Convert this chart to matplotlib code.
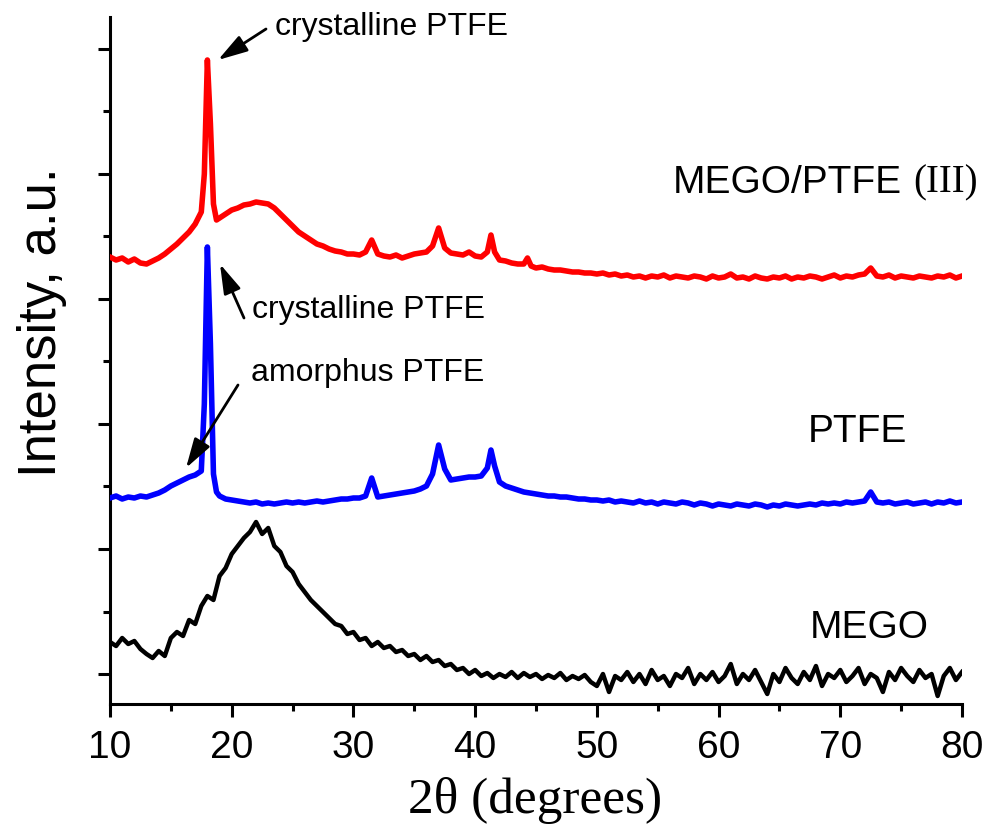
import numpy as np
import matplotlib
matplotlib.use("Agg")
import matplotlib.pyplot as plt

# XRD patterns, intensity in a.u. (curves already stacked with offsets)
x_grid = np.arange(10, 80.01, 0.5)

mego_y = [62, 58, 66, 60, 63, 55, 50, 46, 53, 48,
          66, 72, 68, 84, 80, 98, 108, 104, 128, 136,
          150, 158, 166, 172, 182, 170, 176, 158, 152, 138,
          132, 120, 112, 104, 98, 92, 86, 80, 78, 70,
          72, 64, 66, 58, 62, 56, 58, 52, 54, 48,
          50, 44, 48, 42, 44, 38, 40, 34, 36, 30,
          34, 28, 31, 26, 30, 27, 32, 26, 31, 27,
          30, 25, 29, 26, 31, 24, 28, 25, 29, 22,
          18, 30, 12, 28, 24, 32, 22, 30, 20, 34,
          24, 28, 18, 30, 26, 36, 20, 30, 24, 32,
          22, 28, 40, 20, 30, 24, 34, 22, 10, 30,
          22, 36, 26, 20, 32, 24, 38, 18, 30, 26,
          34, 22, 28, 36, 20, 30, 26, 12, 32, 24,
          36, 28, 22, 34, 26, 30, 8, 28, 36, 24, 32]

ptfe_x = [10, 10.5, 11, 11.5, 12, 12.5, 13, 13.5, 14, 14.5, 15, 15.5, 16, 16.5, 17, 17.5,
          17.75, 18.0, 18.25, 18.5, 18.75, 19, 19.5, 20, 20.5, 21, 21.5, 22, 22.5, 23, 23.5,
          24, 24.5, 25, 25.5, 26, 26.5, 27, 27.5, 28, 28.5, 29, 29.5, 30, 30.5, 31, 31.5,
          32, 32.5, 33, 33.5, 34, 34.5, 35, 35.5, 36, 36.5, 37, 37.5, 38, 38.5, 39, 39.5,
          40, 40.5, 41, 41.3, 41.6, 42, 42.5, 43, 43.5, 44, 44.5, 45, 45.5, 46, 46.5, 47,
          47.5, 48, 48.5, 49, 49.5, 50, 50.5, 51, 51.5, 52, 52.5, 53, 53.5, 54, 54.5, 55,
          55.5, 56, 56.5, 57, 57.5, 58, 58.5, 59, 59.5, 60, 60.5, 61, 61.5, 62, 62.5, 63,
          63.5, 64, 64.5, 65, 65.5, 66, 66.5, 67, 67.5, 68, 68.5, 69, 69.5, 70, 70.5, 71,
          71.5, 72, 72.5, 73, 73.5, 74, 74.5, 75, 75.5, 76, 76.5, 77, 77.5, 78, 78.5, 79,
          79.5, 80]
ptfe_y = [206, 208, 205, 207, 206, 208, 207, 209, 211, 214, 218, 221, 224, 227, 229, 233,
          300, 457, 360, 230, 212, 208, 205, 204, 203, 202, 201, 202, 200, 201, 200,
          201, 202, 201, 202, 201, 202, 203, 202, 203, 204, 205, 205, 206, 206, 208, 226,
          207, 208, 209, 210, 211, 212, 213, 215, 218, 230, 259, 235, 224, 225, 226, 227,
          227, 228, 236, 254, 238, 222, 218, 216, 214, 212, 211, 210, 209, 208, 208, 207,
          207, 206, 205, 205, 204, 204, 203, 204, 202, 203, 202, 201, 203, 201, 202, 200,
          202, 201, 200, 202, 201, 199, 201, 200, 198, 200, 199, 198, 200, 199, 198, 200,
          199, 197, 199, 198, 200, 199, 198, 199, 200, 199, 201, 200, 201, 200, 202, 201,
          202, 203, 212, 202, 201, 202, 200, 201, 202, 200, 201, 202, 200, 202, 201, 203,
          201, 202]

mix_x = [10, 10.5, 11, 11.5, 12, 12.5, 13, 13.5, 14, 14.5, 15, 15.5, 16, 16.5, 17, 17.5,
         17.75, 18.0, 18.25, 18.5, 18.75, 19, 19.5, 20, 20.5, 21, 21.5, 22, 22.5, 23, 23.5,
         24, 24.5, 25, 25.5, 26, 26.5, 27, 27.5, 28, 28.5, 29, 29.5, 30, 30.5, 31, 31.5,
         32, 32.5, 33, 33.5, 34, 34.5, 35, 35.5, 36, 36.5, 37, 37.5, 38, 38.5, 39, 39.5,
         40, 40.5, 41, 41.3, 41.6, 42, 42.5, 43, 43.5, 44, 44.3, 44.6, 45, 45.5, 46, 46.5,
         47, 47.5, 48, 48.5, 49, 49.5, 50, 50.5, 51, 51.5, 52, 52.5, 53, 53.5, 54, 54.5,
         55, 55.5, 56, 56.5, 57, 57.5, 58, 58.5, 59, 59.5, 60, 60.5, 61, 61.5, 62, 62.5,
         63, 63.5, 64, 64.5, 65, 65.5, 66, 66.5, 67, 67.5, 68, 68.5, 69, 69.5, 70, 70.5,
         71, 71.5, 72, 72.5, 73, 73.5, 74, 74.5, 75, 75.5, 76, 76.5, 77, 77.5, 78, 78.5,
         79, 79.5, 80]
mix_y = [447, 444, 446, 442, 445, 441, 440, 443, 446, 450, 455, 460, 466, 472, 480, 492,
         530, 644, 580, 500, 484, 486, 490, 494, 496, 499, 500, 502, 501, 500, 496,
         490, 484, 478, 472, 468, 464, 460, 458, 455, 453, 452, 450, 450, 449, 452, 464,
         450, 448, 447, 449, 446, 448, 450, 451, 452, 458, 476, 456, 451, 450, 449, 452,
         448, 447, 452, 469, 452, 444, 443, 441, 440, 440, 446, 438, 436, 437, 435, 434,
         434, 433, 432, 432, 431, 431, 430, 431, 429, 430, 428, 429, 427, 428, 426, 428,
         427, 429, 426, 428, 427, 426, 428, 427, 425, 428, 426, 427, 430, 426, 427, 425,
         428, 426, 425, 427, 426, 428, 425, 427, 426, 428, 427, 425, 427, 429, 426, 428,
         427, 429, 430, 436, 428, 427, 429, 426, 428, 427, 426, 428, 427, 426, 428, 427,
         429, 426, 428]

W, H = 989, 838


def fx(px):
    return px / W


def fy(py):
    return 1 - py / H


fig = plt.figure(figsize=(W / 100, H / 100), dpi=100)
ax = fig.add_axes([fx(110), fy(704), fx(962) - fx(110), fy(17) - fy(704)])

ax.plot(x_grid, mego_y, color='black', lw=3.2, zorder=2)
ax.plot(ptfe_x, ptfe_y, color='#0000ff', lw=4.0, zorder=3)
ax.plot(mix_x, mix_y, color='#ff0000', lw=4.0, zorder=4)

ax.set_xlim(10, 80)
ax.set_ylim(0, 687)
ax.set_xticks(range(10, 81, 10))
ax.set_xticks(range(15, 80, 10), minor=True)
ax.set_yticks([30, 155, 280, 405, 530, 655])
ax.set_yticks([92.5, 217.5, 342.5, 467.5, 592.5], minor=True)
ax.set_yticklabels([])
for s in ['top', 'right']:
    ax.spines[s].set_visible(False)
for s in ['left', 'bottom']:
    ax.spines[s].set_linewidth(2.2)
ax.tick_params(which='major', direction='out', length=9, width=2.2)
ax.tick_params(which='minor', direction='out', length=5, width=2.2)
ax.tick_params(axis='x', labelsize=28, pad=10)
for lb in ax.get_xticklabels():
    lb.set_family('Liberation Sans')

fig.text(fx(535), fy(800), '2θ (degrees)', family='Liberation Serif',
         fontsize=37, ha='center', va='center')
fig.text(fx(42), fy(322), 'Intensity, a.u.', family='Liberation Sans',
         fontsize=38, rotation=90, ha='center', va='center')

# series labels
fig.text(fx(902), fy(183), 'MEGO/PTFE', family='Liberation Sans',
         fontsize=28, ha='right', va='center')
fig.text(fx(978), fy(183), '(III)', family='Liberation Serif',
         fontsize=28, ha='right', va='center')
fig.text(fx(808), fy(432), 'PTFE', family='Liberation Sans',
         fontsize=28, ha='left', va='center')
fig.text(fx(810), fy(628), 'MEGO', family='Liberation Sans',
         fontsize=28, ha='left', va='center')

# annotations with arrows
arrow = dict(arrowstyle='-|>,head_length=1.0,head_width=0.3', color='black',
             lw=2.0, mutation_scale=18, shrinkA=0, shrinkB=0)
ax.annotate('', xy=(fx(218), fy(60)), xycoords='figure fraction',
            xytext=(fx(266), fy(29)), textcoords='figure fraction', arrowprops=arrow)
fig.text(fx(275), fy(27), 'crystalline PTFE', family='Liberation Sans',
         fontsize=23, ha='left', va='center')

ax.annotate('', xy=(fx(220), fy(264)), xycoords='figure fraction',
            xytext=(fx(244), fy(318)), textcoords='figure fraction', arrowprops=arrow)
fig.text(fx(252), fy(310), 'crystalline PTFE', family='Liberation Sans',
         fontsize=23, ha='left', va='center')

ax.annotate('', xy=(fx(186), fy(468)), xycoords='figure fraction',
            xytext=(fx(238), fy(385)), textcoords='figure fraction', arrowprops=arrow)
fig.text(fx(251), fy(373), 'amorphus PTFE', family='Liberation Sans',
         fontsize=23, ha='left', va='center')

fig.savefig('out.png', dpi=100)
